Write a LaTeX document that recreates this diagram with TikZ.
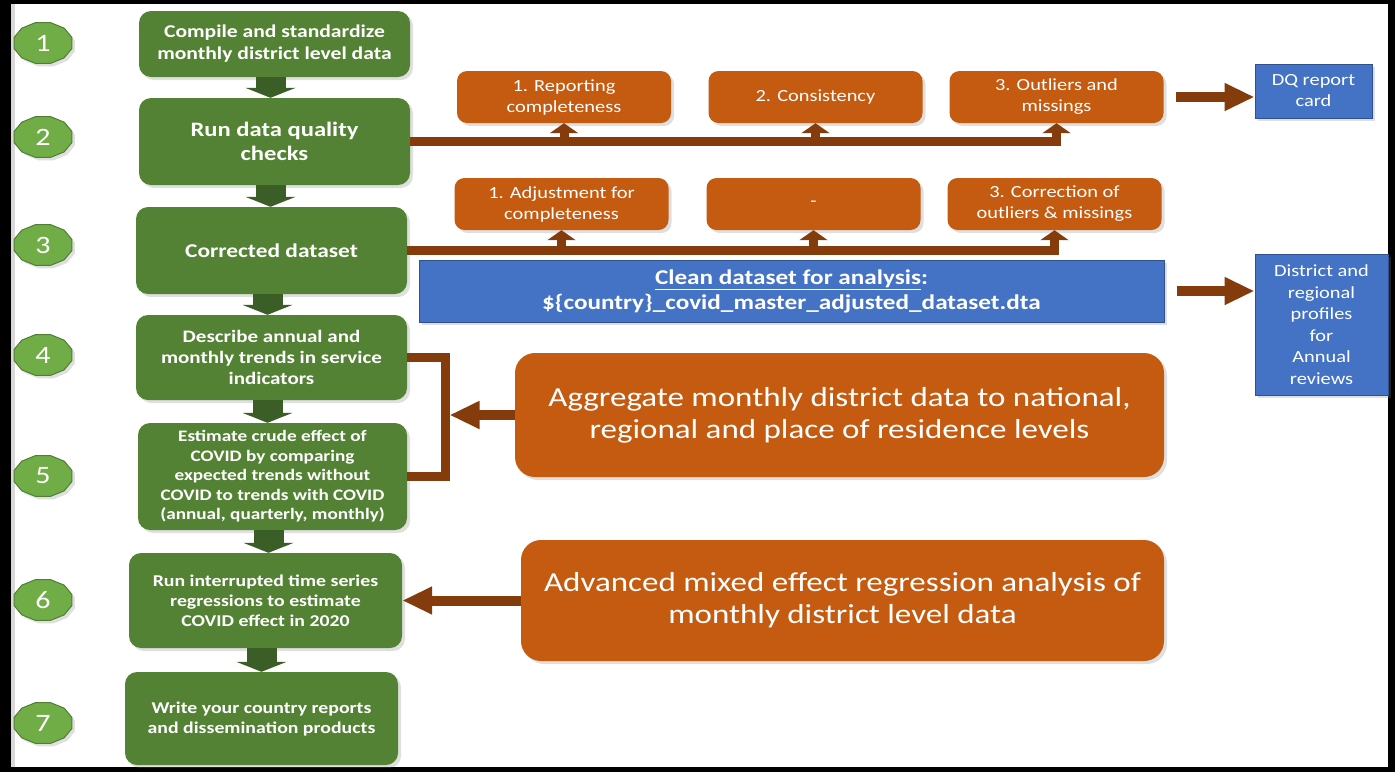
\documentclass[tikz,border=0pt]{standalone}
\usepackage{fontspec}
\setmainfont{Carlito}[FakeStretch=1.2]
\usetikzlibrary{arrows.meta, shadows, calc}

\definecolor{boxgreen}{HTML}{548235}
\definecolor{arrowgreen}{HTML}{3B5E27}
\definecolor{taggreen}{HTML}{70AD47}
\definecolor{tagedge}{HTML}{507E32}
\definecolor{boxorange}{HTML}{C55A11}
\definecolor{linkbrown}{HTML}{843C0C}
\definecolor{boxblue}{HTML}{4472C4}
\definecolor{blueedge}{HTML}{2F528F}

\newcommand{\fsz}[2]{\fontsize{#1}{#2}\selectfont}

\begin{document}
\begin{tikzpicture}[
    x=1pt, y=-1pt,
    softshadow/.style={drop shadow={shadow xshift=3pt, shadow yshift=-3pt, opacity=0.25}},
    greenbox/.style={softshadow, fill=boxgreen, rounded corners=12pt, text=white, align=center, inner sep=2pt, minimum width=271pt},
    orangebox/.style={softshadow, fill=boxorange, rounded corners=10pt, text=white, align=center, inner sep=2pt, font=\fsz{17}{21}},
    bluebox/.style={softshadow, fill=boxblue, draw=blueedge, line width=1pt, text=white, align=center, inner sep=2pt},
    numtag/.style={softshadow, fill=taggreen, draw=tagedge, line width=1pt},
    down/.style={draw=arrowgreen, line width=30pt, -{Triangle[width=50pt, length=10pt]}},
    link/.style={draw=linkbrown, line width=9pt, -{Triangle[width=28pt, length=10pt]}},
    bigarrow/.style={draw=linkbrown, line width=10pt, -{Triangle[width=26pt, length=30pt]}},
    bracket/.style={draw=linkbrown, line width=9pt}
]

% Frame
\fill[black] (0,0) rectangle (1395,772);
\fill[white] (11,4) rectangle (1388,767);
\fill[black!15] (11,4) rectangle (15,767);

% Step numbers on the left
\foreach \i/\ty in {1/43, 2/137, 3/245, 4/355, 5/476, 6/600, 7/723} {
    \filldraw[numtag] plot[samples=13, domain=15:375] ({43+30*cos(\x)}, {\ty+21*sin(\x)}) -- cycle;
    \node[text=white, font=\fsz{25}{30}] (n\i) at (43,\ty) {\i};
}

% Main steps
\node[greenbox, minimum height=66pt, font=\bfseries\fsz{18}{22}] (b1) at (274.5,44)
    {Compile and standardize\\monthly district level data};
\node[greenbox, minimum height=87pt, font=\bfseries\fsz{20.5}{24}] (b2) at (274.5,141.5)
    {Run data quality\\checks};
\node[greenbox, minimum height=87pt, font=\bfseries\fsz{19.5}{24}] (b3) at (271.5,250.5)
    {Corrected dataset};
\node[greenbox, minimum height=85pt, font=\bfseries\fsz{17.5}{21}] (b4) at (271.5,357.5)
    {Describe annual and\\monthly trends in service\\indicators};
\node[greenbox, minimum width=269pt, minimum height=107pt, font=\bfseries\fsz{16}{19.5}] (b5) at (272.5,476.5)
    {Estimate crude effect of\\COVID by comparing\\expected trends without\\COVID to trends with COVID\\(annual, quarterly, monthly)};
\node[greenbox, minimum width=273pt, minimum height=95pt, font=\bfseries\fsz{16.5}{20}] (b6) at (265.5,600.5)
    {Run interrupted time series\\regressions to estimate\\COVID effect in 2020};
\node[greenbox, minimum width=273pt, minimum height=93pt, font=\bfseries\fsz{16.5}{20}] (b7) at (261.5,718.5)
    {Write your country reports\\and dissemination products};

% Arrows between the steps
\foreach \a/\b in {b1/b2, b2/b3, b3/b4, b4/b5, b5/b6, b6/b7}
    \draw[down] ([xshift=-4pt]\a.south) -- ([xshift=-4pt]\a.south |- \b.north);

% Quality checks
\node[orangebox, minimum width=214pt, minimum height=52pt] (q1) at (564,97) {1. Reporting\\completeness};
\node[orangebox, minimum width=214pt, minimum height=52pt] (q2) at (815.5,97) {2. Consistency};
\node[orangebox, minimum width=214pt, minimum height=52pt] (q3) at (1056.5,97) {3. Outliers and\\missings};

% Corrections
\node[orangebox, minimum width=214pt, minimum height=52pt] (c1) at (561.5,204) {1. Adjustment for\\completeness};
\node[orangebox, minimum width=214pt, minimum height=52pt] (c2) at (813.5,204) {-};
\node[orangebox, minimum width=214pt, minimum height=52pt] (c3) at (1054.5,204) {3. Correction of\\outliers \& missings};

% Outputs
\node[bluebox, minimum width=117pt, minimum height=54pt, font=\fsz{17}{21}] (dq) at (1313.5,91) {DQ report\\card};
\node[bluebox, minimum width=133pt, minimum height=141pt, font=\fsz{17}{21.5}] (prof) at (1321.5,324.5)
    {District and\\regional\\profiles\\for\\Annual\\reviews};
\node[bluebox, minimum width=745pt, minimum height=62pt, font=\bfseries\fsz{21}{25}] (clean) at (791.5,291)
    {\underline{Clean dataset for analysis}:\\\$\{country\}\_covid\_master\_adjusted\_dataset.dta};

% Analyses
\node[orangebox, rounded corners=20pt, minimum width=649pt, minimum height=124pt, font=\fsz{27.5}{32}] (agg) at (839.5,415)
    {Aggregate monthly district data to national,\\regional and place of residence levels};
\node[orangebox, rounded corners=20pt, minimum width=643pt, minimum height=121pt, font=\fsz{27.5}{32}] (adv) at (842.5,600.5)
    {Advanced mixed effect regression analysis of\\monthly district level data};

% Links from the checks
\draw[link] (b2.east) -| (q3.south);
\foreach \q in {q1, q2}
    \draw[link] (b2.east -| \q.south) -- (\q.south);
\draw[link] (b3.east) -| (c3.south);
\foreach \c in {c1, c2}
    \draw[link] (b3.east -| \c.south) -- (\c.south);

% Links to the outputs
\draw[bigarrow] ([xshift=12pt]q3.east) -- (q3.east -| dq.west);
\draw[bigarrow] ([xshift=12pt]clean.east) -- (clean.east -| prof.west);

% Bracket over steps 4 and 5
\coordinate (brk) at (445,415);
\draw[bracket] (b4.east) -| (brk) |- (b5.east);
\draw[bigarrow] (agg.west) -- ([xshift=4.5pt]brk);
\draw[bigarrow] (adv.west) -- (adv.west -| b6.east);

\end{tikzpicture}
\end{document}
